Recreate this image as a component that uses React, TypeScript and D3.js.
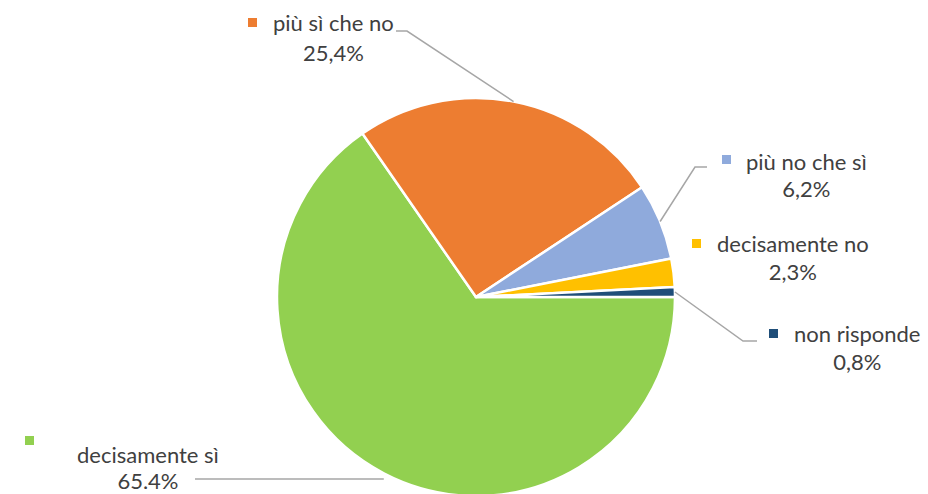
import React from "react";
import * as d3 from "d3";

const categories = ["decisamente sì", "più sì che no", "più no che sì", "decisamente no", "non risponde"];
const values = [65.4, 25.4, 6.2, 2.3, 0.8];
const valueLabels = ["65.4%", "25,4%", "6,2%", "2,3%", "0,8%"];
const colors = ["#92D050", "#ED7D31", "#8FAADC", "#FFC000", "#1F4E79"];

// label layout: marker position, text start, baselines
const labelLayout = [
  { mx: 25, my: 436, tx: 77, ty: 463, vy: 489 },
  { mx: 248, my: 18, tx: 273, ty: 31, vy: 61 },
  { mx: 722, my: 155, tx: 746, ty: 170, vy: 197 },
  { mx: 692, my: 239, tx: 717, ty: 252, vy: 280 },
  { mx: 769, my: 329, tx: 794, ty: 342, vy: 370 },
];

const W = 928;
const H = 494;
const cx = 476;
const cy = 297;
const R = 199;

export default function App() {
  const pie = d3
    .pie<number>()
    .sort(null)
    .startAngle(Math.PI / 2)
    .endAngle(Math.PI / 2 + 2 * Math.PI)
    .value((d) => d);
  const arcs = pie(values);
  const arcGen = d3.arc<d3.PieArcDatum<number>>().innerRadius(0).outerRadius(R);

  const edge = (a: d3.PieArcDatum<number>) => {
    const ang = (a.startAngle + a.endAngle) / 2;
    return [cx + R * Math.sin(ang), cy - R * Math.cos(ang)];
  };

  const font = "Lato, 'Open Sans', sans-serif";
  const fs = 22;

  const e0 = edge(arcs[0]);
  const e1 = edge(arcs[1]);
  const e2 = edge(arcs[2]);
  const e4 = edge(arcs[4]);
  const line = d3.line();
  const leaders: [number, number][][] = [
    [[195, 479], [e0[0], 479]],
    [[396, 31], [407, 31], [e1[0], e1[1]]],
    [[e2[0], e2[1]], [695, 167], [707, 167]],
    [[e4[0], e4[1]], [743, 341], [757, 341]],
  ];

  return (
    <svg width={W} height={H} style={{ position: "absolute", left: 0, top: 0, background: "#fff" }}>
      <g transform={`translate(${cx},${cy})`}>
        {arcs.map((a, i) => (
          <path key={i} d={arcGen(a) || ""} fill={colors[i]} stroke="#fff" strokeWidth={2.5} strokeLinejoin="round" />
        ))}
      </g>
      {leaders.map((pts, i) => (
        <path key={i} d={line(pts) || ""} fill="none" stroke="#A6A6A6" strokeWidth={1.5} />
      ))}
      {categories.map((c, i) => {
        const L = labelLayout[i];
        return (
          <g key={c} fontFamily={font} fontSize={fs} fill="#404040">
            <rect x={L.mx} y={L.my} width={9} height={9} fill={colors[i]} />
            <text x={L.tx} y={L.ty}>{c}</text>
            <TextCenter x={L.tx} y={L.vy} ref0={c} label={valueLabels[i]} fs={fs} font={font} />
          </g>
        );
      })}
    </svg>
  );
}

function TextCenter({ x, y, ref0, label, fs, font }: { x: number; y: number; ref0: string; label: string; fs: number; font: string }) {
  const ref = React.useRef<SVGTextElement>(null);
  const [cxv, setCx] = React.useState<number | null>(null);
  React.useEffect(() => {
    const svg = ref.current?.ownerSVGElement;
    if (!svg) return;
    const t = document.createElementNS("http://www.w3.org/2000/svg", "text");
    t.setAttribute("font-family", font);
    t.setAttribute("font-size", String(fs));
    t.textContent = ref0;
    svg.appendChild(t);
    const w = t.getComputedTextLength();
    svg.removeChild(t);
    setCx(x + w / 2);
  }, [x, ref0, fs, font]);
  return (
    <text ref={ref} x={cxv ?? x} y={y} textAnchor="middle">
      {label}
    </text>
  );
}
